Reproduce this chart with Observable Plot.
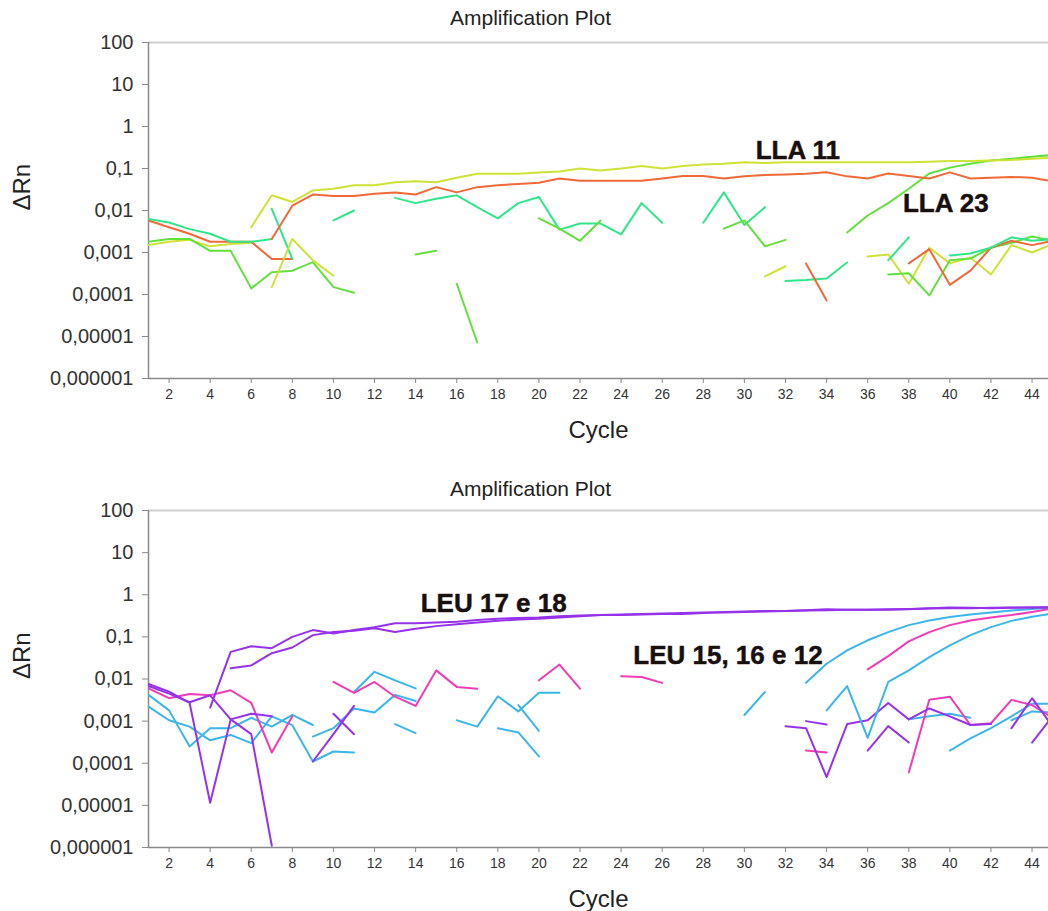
<!DOCTYPE html>
<html><head><meta charset="utf-8">
<script src="https://cdn.jsdelivr.net/npm/d3@7"></script>
<script src="https://cdn.jsdelivr.net/npm/@observablehq/plot@0.6"></script>
<style>body{margin:0;background:#fff;} #chart svg{display:block;}</style>
</head><body><div id="chart"></div>
<script>
// ---- axis data ----
const xTicks = [2,4,6,8,10,12,14,16,18,20,22,24,26,28,30,32,34,36,38,40,42,44];
const yTicks = [1e-6, 1e-5, 1e-4, 1e-3, 1e-2, 0.1, 1, 10, 100];
const yTickLabels = ["0,000001","0,00001","0,0001","0,001","0,01","0,1","1","10","100"];
const titleText = "Amplification Plot";
const xLabel = "Cycle";
const yLabel = "ΔRn";

// ---- top panel (LLA) series: start cycle + ΔRn values ----
const tYellowA = {c:"yellow", s:6, v:[0.004,0.023,0.016,0.030,0.033,0.040,0.040,0.047,0.050,0.047,0.060,0.075,0.075,0.075,0.080,0.085,0.100,0.090,0.100,0.115,0.100,0.115,0.125,0.130,0.140,0.135,0.140,0.140,0.140,0.140,0.140,0.140,0.140,0.145,0.150,0.150,0.155,0.160,0.170,0.180]};
const tOrangeB = {c:"orange", s:7, v:[0.0021,0.013,0.024,0.022,0.022,0.025,0.027,0.024,0.036,0.027,0.036,0.040,0.043,0.046,0.058,0.051,0.051,0.051,0.051,0.058,0.066,0.066,0.058,0.065,0.070,0.072,0.075,0.081,0.065,0.058,0.076,0.066,0.058,0.081,0.058,0.060,0.063,0.060,0.050]};
const tOrangeA = {c:"orange", s:1, v:[0.0058,0.0040,0.0028,0.0018,0.0018,0.0018,0.0007,0.0007]};
const tTealA   = {c:"teal", s:1, v:[0.0063,0.0052,0.0036,0.0028,0.0018,0.0018,0.0021]};
const tTealB   = {c:"teal", s:7, v:[0.011,0.0007]};
const tLimeA   = {c:"lime", s:1, v:[0.0018,0.0021,0.0021,0.0011,0.0011,0.00014,0.00034,0.00037,0.00059,0.00015,0.00011]};
const tYellowB = {c:"yellow", s:1, v:[0.0015,0.0018,0.0020,0.0014,0.0016,0.0017]};
const tYellowC = {c:"yellow", s:7, v:[0.00015,0.0021,0.00065,0.00028]};
const tTealC   = {c:"teal", s:10, v:[0.0058,0.010]};
const tLimeB   = {c:"lime", s:14, v:[0.0009,0.0011]};
const tLimeC   = {c:"lime", s:16, v:[0.00018,0.0000072]};
const tTealD   = {c:"teal", s:13, v:[0.020,0.015,0.019,0.023,0.012,0.0065,0.015,0.021,0.0035,0.0049,0.0049,0.0027,0.015,0.0051]};
const tLimeD   = {c:"lime", s:20, v:[0.0065,0.0037,0.0019,0.0058]};
const tTealE   = {c:"teal", s:28, v:[0.0051,0.027,0.0045,0.012]};
const tLimeE   = {c:"lime", s:29, v:[0.0037,0.0058,0.0014,0.0020]};
const tYellowD = {c:"yellow", s:31, v:[0.00027,0.00047]};
const tTealF   = {c:"teal", s:32, v:[0.00021,0.00022,0.00024,0.00058]};
const tOrangeC = {c:"orange", s:33, v:[0.00055,0.000072]};
const tLimeF   = {c:"lime", s:35, v:[0.003,0.0076,0.015,0.033,0.076,0.105,0.13,0.155,0.17,0.19,0.21]};
const tYellowE = {c:"yellow", s:36, v:[0.0008,0.0009,0.00018,0.0013,0.00055,0.00076,0.0003,0.0015,0.001,0.0016]};
const tTealG   = {c:"teal", s:37, v:[0.00065,0.0023]};
const tLimeG   = {c:"lime", s:37, v:[0.0003,0.00032,0.000095,0.00065,0.00072,0.0013,0.0017,0.0024,0.0019]};
const tOrangeD = {c:"orange", s:38, v:[0.00055,0.0012,0.00017,0.00037,0.0013,0.0019,0.0015,0.0019]};
const tTealH   = {c:"teal", s:40, v:[0.00085,0.00095,0.0013,0.0023,0.0019,0.0021]};
const topSeries = [tYellowB,tLimeA,tOrangeA,tTealA,tTealB,tYellowC,tTealC,tLimeB,tLimeC,tTealD,tLimeD,tTealE,tLimeE,tYellowD,tTealF,tOrangeC,tYellowE,tTealG,tLimeG,tOrangeD,tTealH,tLimeF,tOrangeB,tYellowA];
const topColors = {yellow:"#cfe236", orange:"#f0693a", lime:"#62e03c", teal:"#30e68a"};
const topLabels = [{t:"LLA 11", x:32.6, y:0.27}, {t:"LLA 23", x:39.8, y:0.0148}];

// ---- bottom panel (LEU) series ----
const bP1 = {c:"purple", s:4, v:[0.0021,0.044,0.060,0.054,0.10,0.145,0.12,0.145,0.17,0.21,0.21,0.22,0.23,0.25,0.27,0.28,0.29,0.31,0.32,0.33,0.34,0.35,0.36,0.37,0.38,0.38,0.39,0.40,0.41,0.42,0.43,0.44,0.44,0.45,0.46,0.47,0.48,0.48,0.49,0.50,0.50,0.51]};
const bP2 = {c:"purple", s:5, v:[0.018,0.021,0.041,0.056,0.11,0.13,0.14,0.16,0.13,0.155,0.18,0.20,0.22,0.24,0.26,0.27,0.29,0.31,0.33,0.33,0.34,0.35,0.35,0.37,0.39,0.40,0.41,0.41,0.43,0.45,0.44,0.44,0.44,0.45,0.48,0.50,0.49,0.48,0.49,0.50,0.50]};
const bP3 = {c:"purple", s:1, v:[0.0076,0.0050,0.0027,0.0000115,0.0011,0.0015,0.0013]};
const bP4 = {c:"purple", s:1, v:[0.0068,0.0045,0.0028,0.0041,0.0011,0.00049,0.0000011]};
const bP5 = {c:"purple", s:9, v:[0.00011,0.00049,0.0023]};
const bP6 = {c:"purple", s:10, v:[0.0015,0.00049]};
const bP7 = {c:"purple", s:32, v:[0.00076,0.00068,0.000047,0.00085,0.00105,0.0027,0.0011,0.002,0.0013,0.00081,0.00085]};
const bP8 = {c:"purple", s:33, v:[0.001,0.00083]};
const bP9 = {c:"purple", s:36, v:[0.0002,0.00076,0.00031]};
const bP10 = {c:"purple", s:43, v:[0.00068,0.0035,0.00074]};
const bP11 = {c:"purple", s:44, v:[0.00031,0.0013]};
const bK1 = {c:"pink", s:1, v:[0.006,0.0035,0.0044,0.0041,0.0054,0.0027,0.00018,0.0013]};
const bK2 = {c:"pink", s:10, v:[0.0085,0.0047,0.0085,0.0038,0.0023,0.016,0.0065,0.0059]};
const bK3 = {c:"pink", s:20, v:[0.0093,0.022,0.0059]};
const bK4 = {c:"pink", s:24, v:[0.0117,0.0112,0.0081]};
const bK5 = {c:"pink", s:36, v:[0.017,0.035,0.078,0.13,0.19,0.245,0.29,0.33,0.39,0.47]};
const bK6 = {c:"pink", s:33, v:[0.0002,0.00018]};
const bK7 = {c:"pink", s:38, v:[0.00006,0.0032,0.0038,0.00081,0.00089,0.0032,0.0024,0.0012]};
const bB1 = {c:"blue", s:1, v:[0.0042,0.0018,0.00025,0.00068,0.00068,0.0012,0.00074,0.0014,0.00081]};
const bB2 = {c:"blue", s:1, v:[0.0022,0.00105,0.00074,0.00035,0.00047,0.0003,0.0013,0.0008,0.00011,0.00019,0.00018]};
const bB3 = {c:"blue", s:9, v:[0.00043,0.00068,0.002,0.0016,0.0042,0.003]};
const bB4 = {c:"blue", s:11, v:[0.0049,0.0148,0.0093,0.006]};
const bB5 = {c:"blue", s:13, v:[0.00085,0.00052]};
const bB6 = {c:"blue", s:16, v:[0.00105,0.00074,0.0039,0.0017,0.0047,0.0047]};
const bB7 = {c:"blue", s:18, v:[0.00068,0.00054,0.000145]};
const bB8 = {c:"blue", s:19, v:[0.0024,0.00059]};
const bB9 = {c:"blue", s:30, v:[0.0014,0.0049]};
const bB10 = {c:"blue", s:33, v:[0.0081,0.023,0.048,0.083,0.13,0.19,0.245,0.295,0.34,0.38,0.42,0.46,0.50]};
const bB11 = {c:"blue", s:34, v:[0.0018,0.0068,0.0004,0.0085,0.016,0.033,0.063,0.11,0.17,0.24,0.30,0.36]};
const bB12 = {c:"blue", s:38, v:[0.0011,0.0013,0.0015,0.0012]};
const bB13 = {c:"blue", s:40, v:[0.0002,0.00039,0.00068,0.0013,0.0026,0.0026]};
const bB14 = {c:"blue", s:43, v:[0.00105,0.0017,0.0016]};
const bottomSeries = [bB1,bB2,bB3,bB4,bB5,bB6,bB7,bB8,bB9,bB12,bB13,bB14,bK1,bK2,bK3,bK4,bK6,bK7,bP3,bP4,bP5,bP6,bP7,bP8,bP9,bP10,bP11,bB11,bB10,bK5,bP2,bP1];
const bottomColors = {purple:"#9632ea", pink:"#f03cb6", blue:"#3ab6ea"};
const bottomLabels = [{t:"LEU 17 e 18", x:17.8, y:0.62}, {t:"LEU 15, 16 e 12", x:29.2, y:0.035}];

const FONT = "Liberation Sans, Arial, Helvetica, sans-serif";

function toPoints(ser) {
  return ser.v.map((value, i) => ({cycle: ser.s + i, value}));
}

function panel({series, colors, labels, height, marginTop, marginBottom, titleDy}) {
  return Plot.plot({
    width: 1048, height, marginLeft: 148, marginRight: 0, marginTop, marginBottom,
    style: {fontFamily: FONT, background: "#fff", color: "#333", overflow: "visible"},
    x: {domain: [1, 44.8]},
    y: {type: "log", domain: [1e-6, 100]},
    marks: [
      Plot.ruleY([100], {stroke: "#cfcfcf", strokeWidth: 2}),
      Plot.axisY({ticks: yTicks, tickFormat: d => yTickLabels[yTicks.indexOf(d)], tickSize: 6, tickPadding: 9, fontSize: 20, stroke: "#8a8a8a", fill: "#333", label: null}),
      Plot.axisX({ticks: xTicks, tickFormat: d => String(d), tickSize: 5, tickPadding: 6, fontSize: 14, stroke: "#8a8a8a", fill: "#333", label: null}),
      Plot.ruleX([1], {stroke: "#8a8a8a", strokeWidth: 1.5}),
      Plot.ruleY([1e-6], {stroke: "#8a8a8a", strokeWidth: 1.5}),
      ...series.map(ser => Plot.line(toPoints(ser), {x: "cycle", y: "value", stroke: colors[ser.c], strokeWidth: 2, clip: true})),
      Plot.text(labels, {x: "x", y: "y", text: "t", fontSize: 26, fontWeight: "bold", fill: "#161010", stroke: "#4a2012", strokeWidth: 0.5}),
      Plot.text([titleText], {text: d => d, frameAnchor: "top", lineAnchor: "middle", dx: -68, dy: titleDy, fontSize: 21, fill: "#222"}),
      Plot.text([xLabel], {text: d => d, frameAnchor: "bottom", lineAnchor: "middle", dy: 52, fontSize: 24, fill: "#222"}),
      Plot.text([yLabel], {text: d => d, frameAnchor: "left", lineAnchor: "middle", dx: -126, rotate: -90, fontSize: 24, fill: "#222"})
    ]
  });
}

const chart = document.getElementById("chart");
chart.append(panel({series: topSeries, colors: topColors, labels: topLabels, height: 455, marginTop: 42, marginBottom: 77, titleDy: -24}));
chart.append(panel({series: bottomSeries, colors: bottomColors, labels: bottomLabels, height: 456, marginTop: 55, marginBottom: 64, titleDy: -21}));
</script>
</body></html>
